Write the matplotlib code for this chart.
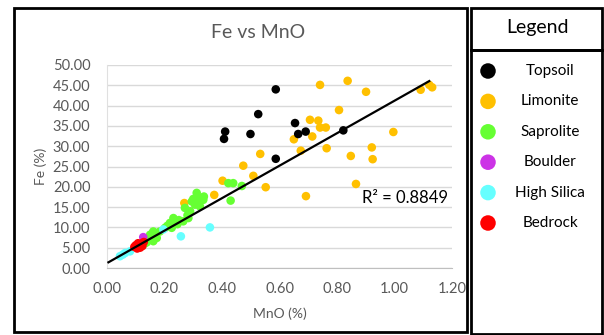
import numpy as np
import matplotlib.pyplot as plt
from matplotlib.patches import Rectangle

plt.rcParams['font.family'] = ['Lato', 'DejaVu Sans']

# MnO (%) vs Fe (%) for each rock type
topsoil_mno = [0.587, 0.526, 0.411, 0.407, 0.499, 0.587, 0.654, 0.665, 0.691, 0.822]
topsoil_fe = [44.0, 37.9, 33.6, 31.8, 33.0, 26.9, 35.7, 33.0, 33.6, 33.9]

limonite_mno = [0.741, 0.837, 0.901, 1.091, 1.121, 1.131, 0.807, 0.706, 0.735, 0.741,
                0.761, 0.714, 0.650, 0.996, 0.674, 0.764, 0.921, 0.848, 0.924, 0.533,
                0.474, 0.866, 0.692, 0.509, 0.552, 0.402, 0.373, 0.269]
limonite_fe = [45.1, 46.1, 43.4, 43.9, 45.1, 44.5, 38.9, 36.5, 36.3, 34.6,
               34.6, 32.4, 31.7, 33.5, 28.9, 29.5, 29.7, 27.6, 26.8, 28.1,
               25.2, 20.7, 17.7, 22.7, 19.9, 21.5, 18.0, 16.0]

saprolite_mno = [0.312, 0.335, 0.295, 0.306, 0.323, 0.289, 0.283, 0.265, 0.231, 0.219,
                 0.202, 0.225, 0.184, 0.161, 0.155, 0.144, 0.161, 0.173, 0.138, 0.271,
                 0.337, 0.422, 0.439, 0.469, 0.430, 0.326, 0.318, 0.300, 0.245, 0.210,
                 0.150, 0.130, 0.280, 0.250]
saprolite_fe = [18.5, 16.8, 16.4, 15.6, 15.2, 14.0, 12.3, 11.5, 12.3, 11.1,
                9.9, 9.9, 9.0, 9.0, 7.8, 7.3, 6.6, 7.4, 6.3, 14.8,
                17.6, 20.9, 20.9, 20.2, 16.6, 17.2, 16.0, 17.0, 10.8, 10.4,
                8.2, 6.0, 13.0, 11.8]

boulder_mno = [0.126]
boulder_fe = [7.6]

high_silica_mno = [0.358, 0.257, 0.196, 0.063, 0.045, 0.080, 0.055]
high_silica_fe = [10.0, 7.8, 9.5, 3.7, 2.9, 4.1, 3.3]

bedrock_mno = [0.095, 0.105, 0.112, 0.120, 0.128, 0.100, 0.115, 0.123, 0.108]
bedrock_fe = [5.2, 4.8, 5.5, 6.0, 6.4, 5.6, 5.0, 5.4, 6.1]

# Excel linear trendline
trend_slope = 40.0
trend_intercept = 1.2
trend_range = [0.005, 1.121]
r2_label = "R² = 0.8849"

series = [
    ("Topsoil", topsoil_mno, topsoil_fe, "#000000"),
    ("Limonite", limonite_mno, limonite_fe, "#FFC000"),
    ("Saprolite", saprolite_mno, saprolite_fe, "#66FF33"),
    ("Boulder", boulder_mno, boulder_fe, "#CC33E6"),
    ("High Silica", high_silica_mno, high_silica_fe, "#66FFFF"),
    ("Bedrock", bedrock_mno, bedrock_fe, "#FF0000"),
]
draw_order = ["Limonite", "Topsoil", "Saprolite", "High Silica", "Boulder", "Bedrock"]

W, H = 604, 335
fig = plt.figure(figsize=(W / 100, H / 100), dpi=100)


def fx(px):
    return px / W


def fy(py):
    return 1 - py / H


grey = "#595959"

ax = fig.add_axes([fx(107), fy(268), (452 - 107) / W, (268 - 65) / H])
for name in draw_order:
    for s in series:
        if s[0] == name:
            ax.scatter(s[1], s[2], s=38, color=s[3], edgecolors="none", zorder=3)

tx = np.array(trend_range)
ax.plot(tx, trend_slope * tx + trend_intercept, color="black", lw=1.6, zorder=4)
ax.text(1.185, 17.3, r2_label, fontsize=12, color="black", ha="right", va="center")

ax.set_xlim(0, 1.2)
ax.set_ylim(0, 50)
ax.set_xticks(np.arange(0, 1.21, 0.2))
ax.set_yticks(np.arange(0, 50.1, 5))
ax.xaxis.set_major_formatter(lambda v, p: f"{v:.2f}")
ax.yaxis.set_major_formatter(lambda v, p: f"{v:.2f}")
ax.tick_params(length=0, labelsize=10.5, labelcolor=grey)
ax.tick_params(axis="y", pad=12)
ax.tick_params(axis="x", pad=10)
ax.grid(axis="y", color="#D9D9D9", lw=1)
ax.set_axisbelow(True)
for side in ["top", "right"]:
    ax.spines[side].set_visible(False)
ax.spines["left"].set_color("#E0E0E0")
ax.spines["bottom"].set_color("#BFBFBF")
ax.set_xlabel("MnO (%)", fontsize=10, color=grey, labelpad=8)
ax.set_ylabel("Fe (%)", fontsize=10, color=grey, labelpad=4)

fig.text(fx(258), fy(33), "Fe vs MnO", fontsize=14, color=grey, ha="center", va="center")

# frames: chart, legend header, legend body
for x0, y0, x1, y1 in [(14, 8, 467, 332), (471, 8, 602, 50), (471, 50, 602, 334)]:
    fig.add_artist(Rectangle((fx(x0), fy(y1)), (x1 - x0) / W, (y1 - y0) / H,
                             transform=fig.transFigure, fill=False, ec="black", lw=2))

fig.text(fx(537), fy(28), "Legend", fontsize=14, color="black", ha="center", va="center")

leg = fig.add_axes([fx(471), fy(334), (602 - 471) / W, (334 - 50) / H])
leg.set_xlim(471, 602)
leg.set_ylim(334, 50)
leg.axis("off")
for i, s in enumerate(series):
    y = 71 + i * 30.4
    leg.scatter([488], [y], s=125, color=s[3], edgecolors="none")
    leg.text(550, y, s[0], fontsize=11, color="black", ha="center", va="center")

fig.savefig("out.png", dpi=100)
